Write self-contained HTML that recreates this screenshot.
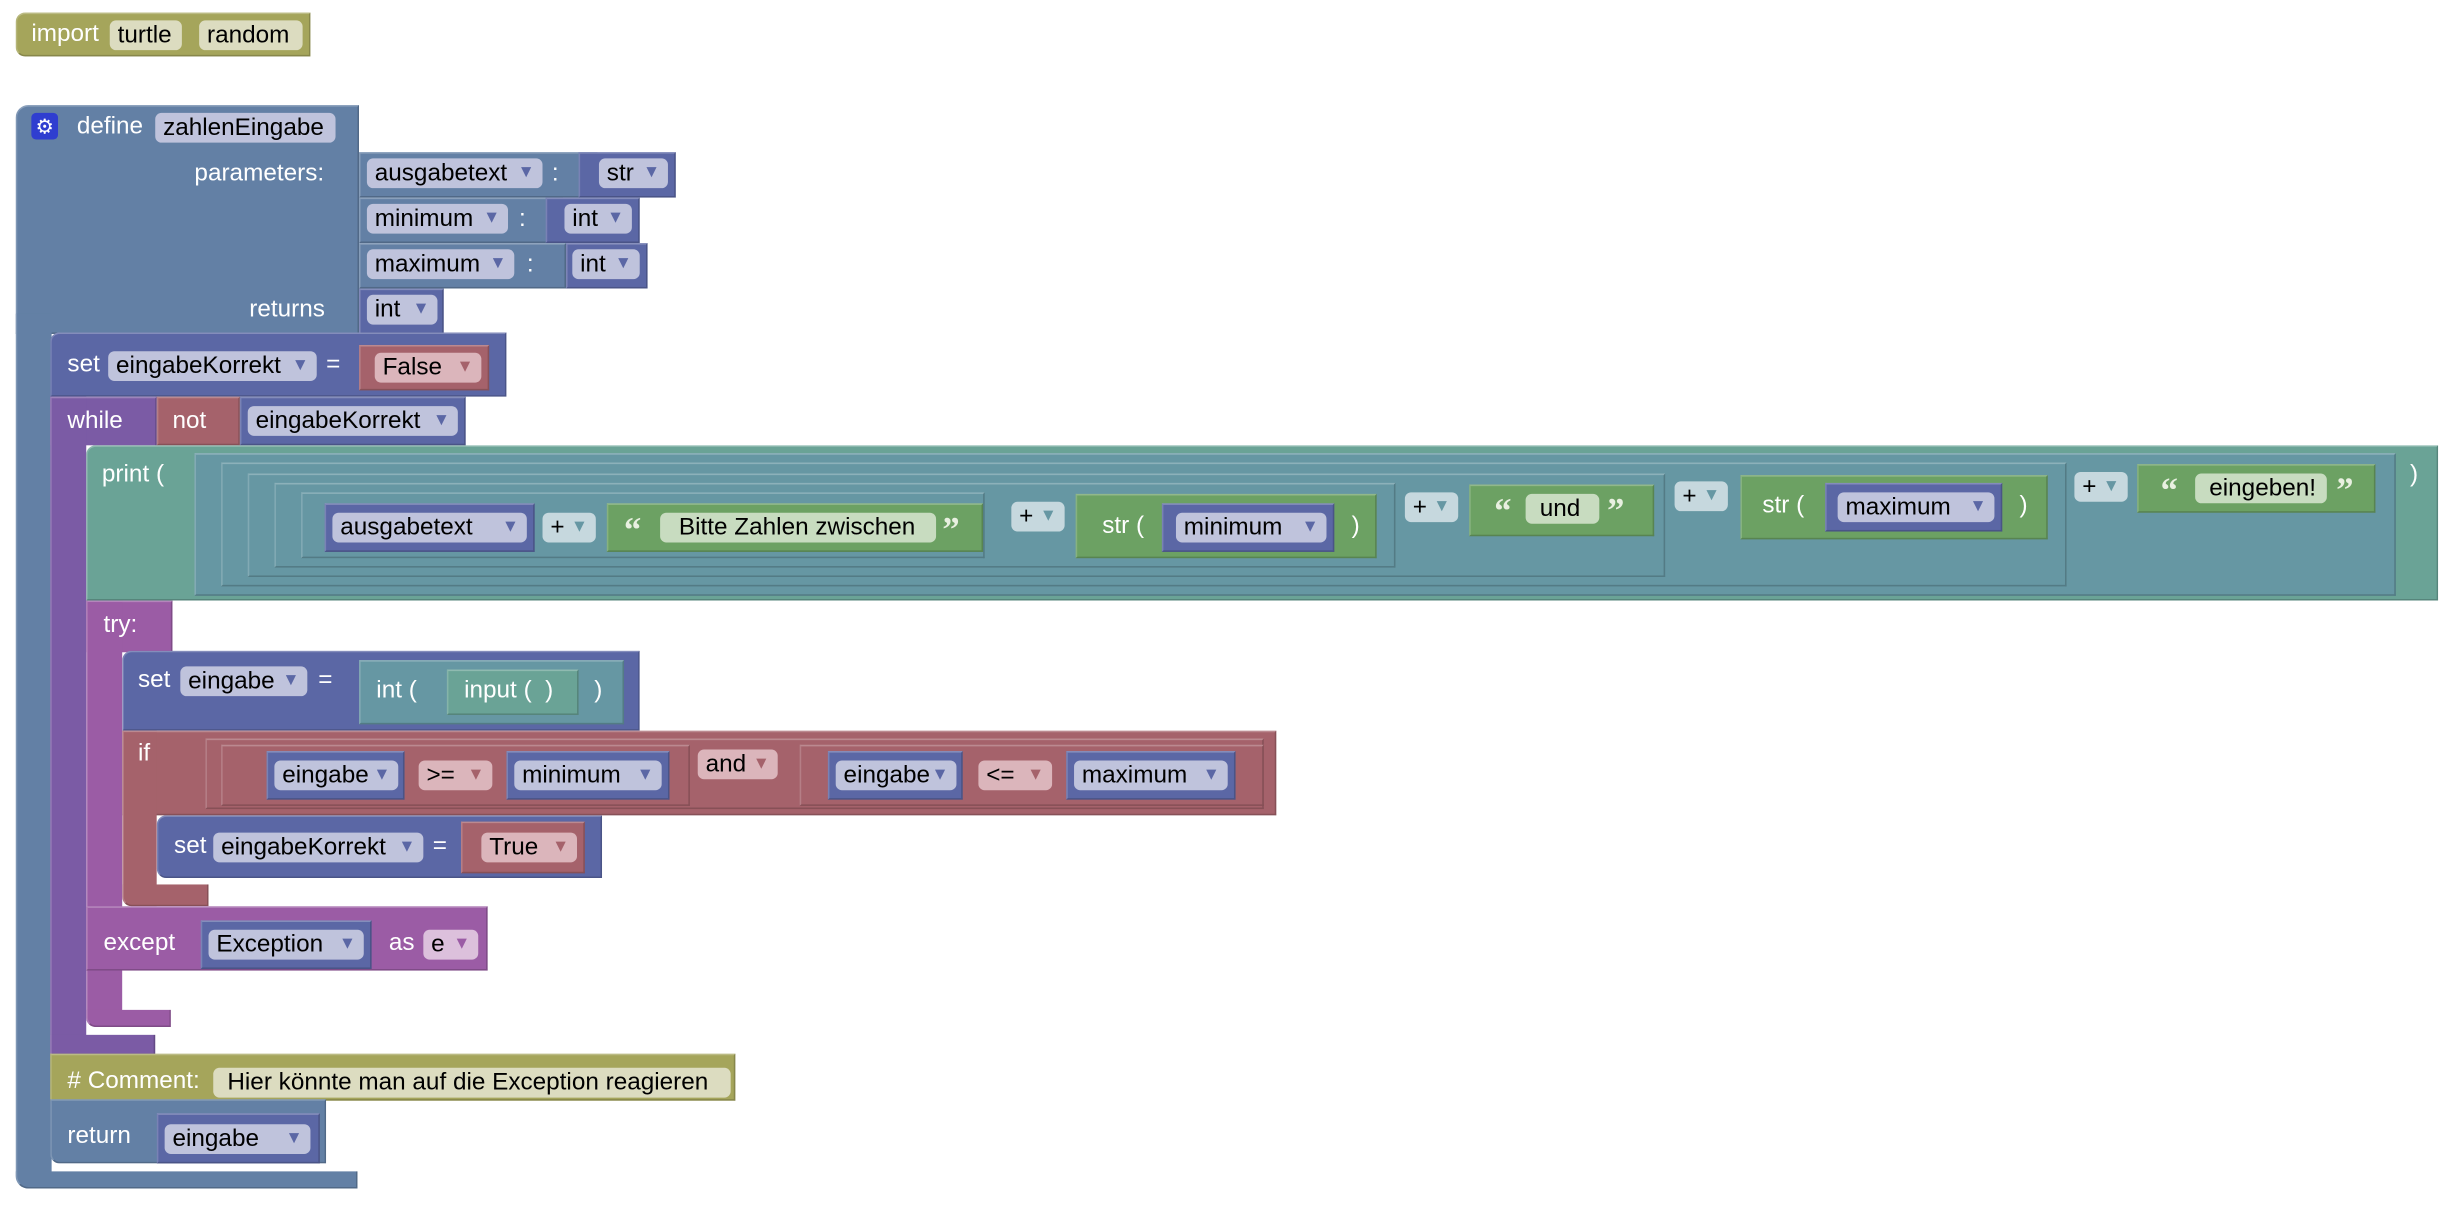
<!DOCTYPE html>
<html><head><meta charset="utf-8"><style>
html,body{margin:0;padding:0;background:#fff;width:2446px;height:1210px;overflow:hidden}
#c{position:absolute;left:0;top:0;width:1560px;height:772px;transform:scale(1.56795);transform-origin:0 0;font-family:"Liberation Sans",Arial,sans-serif;font-size:15.5px}
.b{position:absolute;box-sizing:border-box;border:1px solid rgba(0,0,0,.18);border-top-color:rgba(255,255,255,.25);border-left-color:rgba(255,255,255,.18)}
.t{position:absolute;color:#fff;line-height:20px;white-space:nowrap}
.f{position:absolute;border-radius:4px;color:#000;line-height:19px;height:19px;padding-left:5px;box-sizing:border-box;white-space:nowrap}
.f i{font-style:normal;font-size:11px;position:absolute;right:5px;top:0}
.p{background:#6380a5}.v{background:#5b67a5}.vf{background:#bfc3dc}.vf i{color:#5b67a5}
.r{background:#a5626b}.rf{background:#dbb5bb}.rf i{color:#a5626b}
.w{background:#7b5ba5}.tr{background:#9b5ca5}
.pr{background:#6aa396}.n{background:#6697a3}.pf{background:#c6d8de}.pf i{color:#6697a3}
.g{background:#6ca163}.gf{background:#c8dcc0}
.o{background:#a5a55b}.of{background:#dcdcc0}
.q{position:absolute;color:#e8f0e0;font-size:22px;font-weight:bold;line-height:20px;font-family:"Liberation Serif",serif}
</style></head><body><div id="c">

<!-- import -->
<div class="b o" style="left:10px;top:8px;width:188px;height:28px;border-radius:6px 0 0 6px"></div>
<div class="t" style="left:20px;top:12px">import</div>
<div class="f of" style="left:70px;top:13px;width:46px">turtle</div>
<div class="f of" style="left:127px;top:13px;width:66px">random</div>

<!-- define -->
<div class="b p" style="left:10px;top:67px;width:219px;height:146px;border-radius:8px 0 0 0"></div>
<div class="b p" style="left:10px;top:200px;width:23px;height:558px;border-radius:0 0 0 8px;border-right:none;border-top:none"></div>
<div class="b p" style="left:10px;top:747px;width:218px;height:11px;border-radius:0 0 0 8px;border-top:none"></div>
<div style="position:absolute;left:20px;top:72px;width:17px;height:17px;background:#2f3ed0;border-radius:3px;color:#fff;font-size:13px;line-height:17px;text-align:center">⚙</div>
<div class="t" style="left:49px;top:71px">define</div>
<div class="f vf" style="left:99px;top:72px;width:115px">zahlenEingabe</div>
<div class="t" style="left:124px;top:101px">parameters:</div>
<div class="t" style="left:159px;top:188px">returns</div>

<div class="b p" style="left:229px;top:97px;width:152px;height:29px"></div>
<div class="f vf" style="left:234px;top:101px;width:112px">ausgabetext<i>▼</i></div>
<div class="t" style="left:352px;top:101px">:</div>
<div class="b v" style="left:369px;top:97px;width:62px;height:29px"></div>
<div class="f vf" style="left:382px;top:101px;width:44px">str<i>▼</i></div>

<div class="b p" style="left:229px;top:126px;width:130px;height:29px"></div>
<div class="f vf" style="left:234px;top:130px;width:90px">minimum<i>▼</i></div>
<div class="t" style="left:331px;top:130px">:</div>
<div class="b v" style="left:348px;top:126px;width:60px;height:29px"></div>
<div class="f vf" style="left:360px;top:130px;width:43px">int<i>▼</i></div>

<div class="b p" style="left:229px;top:155px;width:132px;height:29px"></div>
<div class="f vf" style="left:234px;top:159px;width:94px">maximum<i>▼</i></div>
<div class="t" style="left:336px;top:159px">:</div>
<div class="b v" style="left:361px;top:155px;width:52px;height:29px"></div>
<div class="f vf" style="left:365px;top:159px;width:43px">int<i>▼</i></div>

<div class="b v" style="left:229px;top:184px;width:54px;height:29px"></div>
<div class="f vf" style="left:234px;top:188px;width:45px">int<i>▼</i></div>

<!-- set eingabeKorrekt -->
<div class="b v" style="left:32px;top:212px;width:291px;height:41px;border-radius:6px 0 0 0"></div>
<div class="t" style="left:43px;top:223px">set</div>
<div class="f vf" style="left:69px;top:224px;width:133px">eingabeKorrekt<i>▼</i></div>
<div class="t" style="left:208px;top:223px">=</div>
<div class="b r" style="left:229px;top:220px;width:83px;height:29px"></div>
<div class="f rf" style="left:239px;top:225px;width:68px">False<i>▼</i></div>

<!-- while -->
<div class="b w" style="left:32px;top:253px;width:68px;height:31px;border-bottom:none"></div>
<div class="b w" style="left:32px;top:253px;width:23px;height:420px;border-right:none"></div>
<div class="b w" style="left:32px;top:660px;width:67px;height:13px;border-top:none"></div>
<div class="t" style="left:43px;top:259px">while</div>
<div class="b r" style="left:100px;top:253px;width:53px;height:31px"></div>
<div class="t" style="left:110px;top:259px">not</div>
<div class="b v" style="left:153px;top:253px;width:144px;height:31px"></div>
<div class="f vf" style="left:158px;top:259px;width:134px">eingabeKorrekt<i>▼</i></div>

<!-- print -->
<div class="b pr" style="left:55px;top:284px;width:1500px;height:99px;border-radius:6px 0 0 0"></div>
<div class="t" style="left:65px;top:293px">print (</div>
<div class="b n" style="left:124px;top:289px;width:1404px;height:91px"></div>
<div class="b n" style="left:141px;top:295px;width:1177px;height:79px"></div>
<div class="b n" style="left:158px;top:302px;width:904px;height:66px"></div>
<div class="b n" style="left:175px;top:308px;width:715px;height:54px"></div>
<div class="b n" style="left:192px;top:314px;width:436px;height:42px"></div>

<div class="b v" style="left:207px;top:321px;width:134px;height:31px"></div>
<div class="f vf" style="left:212px;top:327px;width:124px">ausgabetext<i>▼</i></div>
<div class="f pf" style="left:346px;top:327px;width:34px">+<i>▼</i></div>
<div class="b g" style="left:387px;top:321px;width:240px;height:31px"></div>
<div class="q" style="left:398px;top:328px">“</div>
<div class="f gf" style="left:421px;top:327px;width:176px;padding-left:12px">Bitte Zahlen zwischen</div>
<div class="q" style="left:601px;top:328px">”</div>

<div class="f pf" style="left:645px;top:320px;width:34px">+<i>▼</i></div>
<div class="b g" style="left:686px;top:315px;width:192px;height:41px"></div>
<div class="t" style="left:703px;top:326px">str (</div>
<div class="b v" style="left:741px;top:321px;width:110px;height:31px"></div>
<div class="f vf" style="left:750px;top:327px;width:96px">minimum<i>▼</i></div>
<div class="t" style="left:862px;top:326px">)</div>

<div class="f pf" style="left:896px;top:314px;width:34px">+<i>▼</i></div>
<div class="b g" style="left:937px;top:309px;width:118px;height:33px"></div>
<div class="q" style="left:953px;top:316px">“</div>
<div class="f gf" style="left:973px;top:315px;width:47px;padding-left:9px">und</div>
<div class="q" style="left:1025px;top:316px">”</div>

<div class="f pf" style="left:1068px;top:307px;width:34px">+<i>▼</i></div>
<div class="b g" style="left:1110px;top:303px;width:196px;height:41px"></div>
<div class="t" style="left:1124px;top:313px">str (</div>
<div class="b v" style="left:1164px;top:308px;width:113px;height:31px"></div>
<div class="f vf" style="left:1172px;top:314px;width:100px">maximum<i>▼</i></div>
<div class="t" style="left:1288px;top:313px">)</div>

<div class="f pf" style="left:1323px;top:301px;width:34px">+<i>▼</i></div>
<div class="b g" style="left:1363px;top:296px;width:152px;height:31px"></div>
<div class="q" style="left:1378px;top:303px">“</div>
<div class="f gf" style="left:1400px;top:302px;width:84px;padding-left:9px">eingeben!</div>
<div class="q" style="left:1490px;top:303px">”</div>
<div class="t" style="left:1537px;top:293px">)</div>

<!-- try -->
<div class="b tr" style="left:55px;top:383px;width:55px;height:33px;border-bottom:none"></div>
<div class="b tr" style="left:55px;top:383px;width:23px;height:272px;border-right:none;border-radius:0 0 0 6px"></div>
<div class="b tr" style="left:55px;top:644px;width:54px;height:11px;border-top:none;border-radius:0 0 0 6px"></div>
<div class="t" style="left:66px;top:389px">try:</div>

<div class="b v" style="left:78px;top:415px;width:330px;height:51px;border-radius:6px 0 0 0"></div>
<div class="t" style="left:88px;top:424px">set</div>
<div class="f vf" style="left:115px;top:425px;width:81px">eingabe<i>▼</i></div>
<div class="t" style="left:203px;top:424px">=</div>
<div class="b n" style="left:229px;top:421px;width:169px;height:41px"></div>
<div class="t" style="left:240px;top:431px">int (</div>
<div class="b pr" style="left:285px;top:427px;width:84px;height:29px"></div>
<div class="t" style="left:296px;top:431px">input (&nbsp; )</div>
<div class="t" style="left:379px;top:431px">)</div>

<!-- if -->
<div class="b r" style="left:78px;top:466px;width:736px;height:54px"></div>
<div class="b r" style="left:78px;top:466px;width:22px;height:112px;border-right:none;border-radius:0 0 0 6px"></div>
<div class="b r" style="left:78px;top:564px;width:55px;height:14px;border-top:none;border-radius:0 0 0 6px"></div>
<div class="t" style="left:88px;top:471px">if</div>
<div class="b r" style="left:131px;top:471px;width:675px;height:45px"></div>
<div class="b r" style="left:141px;top:475px;width:299px;height:39px"></div>
<div class="b v" style="left:170px;top:479px;width:88px;height:31px"></div>
<div class="f vf" style="left:175px;top:485px;width:79px">eingabe<i>▼</i></div>
<div class="f rf" style="left:267px;top:485px;width:47px">&gt;=<i>▼</i></div>
<div class="b v" style="left:323px;top:479px;width:104px;height:31px"></div>
<div class="f vf" style="left:328px;top:485px;width:94px">minimum<i>▼</i></div>
<div class="f rf" style="left:445px;top:478px;width:51px">and<i>▼</i></div>
<div class="b r" style="left:510px;top:475px;width:296px;height:39px"></div>
<div class="b v" style="left:528px;top:479px;width:86px;height:31px"></div>
<div class="f vf" style="left:533px;top:485px;width:77px">eingabe<i>▼</i></div>
<div class="f rf" style="left:624px;top:485px;width:47px">&lt;=<i>▼</i></div>
<div class="b v" style="left:680px;top:479px;width:108px;height:31px"></div>
<div class="f vf" style="left:685px;top:485px;width:98px">maximum<i>▼</i></div>

<div class="b v" style="left:100px;top:520px;width:284px;height:40px;border-radius:6px 0 0 6px"></div>
<div class="t" style="left:111px;top:530px">set</div>
<div class="f vf" style="left:136px;top:531px;width:134px">eingabeKorrekt<i>▼</i></div>
<div class="t" style="left:276px;top:530px">=</div>
<div class="b r" style="left:294px;top:524px;width:79px;height:33px"></div>
<div class="f rf" style="left:307px;top:531px;width:61px">True<i>▼</i></div>

<!-- except -->
<div class="b tr" style="left:55px;top:578px;width:256px;height:41px"></div>
<div class="t" style="left:66px;top:592px">except</div>
<div class="b v" style="left:128px;top:587px;width:109px;height:31px"></div>
<div class="f vf" style="left:133px;top:593px;width:99px">Exception<i>▼</i></div>
<div class="t" style="left:248px;top:592px">as</div>
<div class="f" style="left:270px;top:593px;width:35px;background:#dcc0dc">e<i style="color:#9b5ca5">▼</i></div>

<!-- comment -->
<div class="b o" style="left:32px;top:672px;width:437px;height:30px"></div>
<div class="t" style="left:43px;top:680px"># Comment:</div>
<div class="f of" style="left:136px;top:681px;width:330px;padding-left:9px">Hier könnte man auf die Exception reagieren</div>

<!-- return -->
<div class="b p" style="left:32px;top:701px;width:176px;height:41px;border-radius:0 0 0 6px"></div>
<div class="t" style="left:43px;top:715px">return</div>
<div class="b v" style="left:100px;top:710px;width:104px;height:32px"></div>
<div class="f vf" style="left:105px;top:717px;width:93px">eingabe<i>▼</i></div>

</div></body></html>
